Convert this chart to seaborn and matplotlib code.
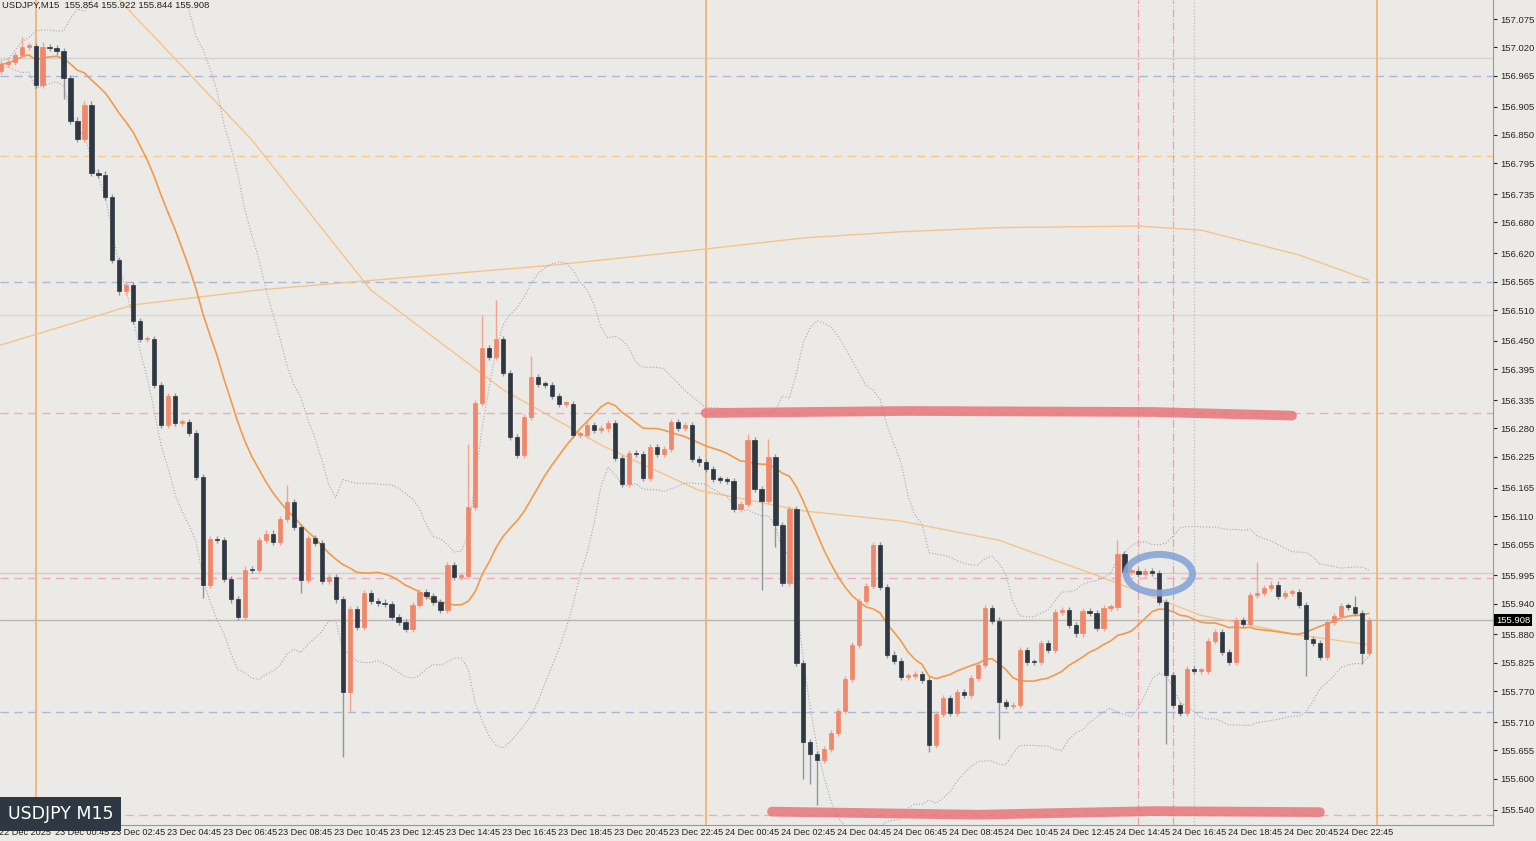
import numpy as np
import pandas as pd
import matplotlib
matplotlib.use("Agg")
import matplotlib.pyplot as plt
from matplotlib.patches import Ellipse
import seaborn as sns

# USDJPY M15 closes, one per bar (open = previous close)
closes = [
    156.987, 156.992, 157.005, 157.021, 157.023, 156.947, 157.020, 157.018, 157.012, 156.961,
    156.878, 156.843, 156.909, 156.777, 156.773, 156.730, 156.607, 156.546, 156.558, 156.489,
    156.453, 156.453, 156.364, 156.286, 156.343, 156.291, 156.292, 156.271, 156.185, 155.977,
    156.065, 156.063, 155.987, 155.948, 155.914, 156.006, 156.005, 156.063, 156.076, 156.060,
    156.105, 156.138, 156.088, 155.985, 156.067, 156.057, 155.984, 155.992, 155.948, 155.768,
    155.930, 155.895, 155.961, 155.945, 155.942, 155.939, 155.914, 155.904, 155.891, 155.938,
    155.963, 155.954, 155.943, 155.928, 156.015, 155.992, 155.993, 156.127, 156.330, 156.437,
    156.418, 156.454, 156.388, 156.264, 156.228, 156.303, 156.380, 156.366, 156.365, 156.343,
    156.328, 156.328, 156.268, 156.268, 156.287, 156.277, 156.280, 156.291, 156.223, 156.172,
    156.232, 156.230, 156.184, 156.244, 156.230, 156.240, 156.293, 156.281, 156.287, 156.220,
    156.214, 156.201, 156.182, 156.180, 156.178, 156.123, 156.134, 156.258, 156.162, 156.139,
    156.224, 156.092, 155.980, 156.124, 155.824, 155.672, 155.647, 155.636, 155.658, 155.688,
    155.732, 155.794, 155.859, 155.945, 155.974, 156.053, 155.972, 155.841, 155.829, 155.798,
    155.799, 155.803, 155.791, 155.665, 155.725, 155.757, 155.727, 155.769, 155.762, 155.796,
    155.820, 155.932, 155.907, 155.749, 155.741, 155.743, 155.850, 155.827, 155.826, 155.864,
    155.850, 155.924, 155.927, 155.898, 155.882, 155.926, 155.921, 155.892, 155.932, 155.934,
    156.037, 156.002, 156.004, 155.997, 156.003, 156.000, 155.943, 155.801, 155.743, 155.728,
    155.812, 155.809, 155.809, 155.868, 155.885, 155.846, 155.826, 155.908, 155.900, 155.956,
    155.961, 155.971, 155.977, 155.955, 155.961, 155.962, 155.937, 155.872, 155.863, 155.837,
    155.905, 155.916, 155.936, 155.934, 155.921, 155.844, 155.908,
]
first_open = 156.975
# notable wick extremes by bar index
wick_high = {3: 157.04, 6: 157.03, 41: 156.17, 67: 156.25, 69: 156.50, 71: 156.53, 76: 156.42,
             107: 156.27, 110: 156.26, 113: 156.13, 160: 156.063, 180: 156.02, 194: 155.955}
wick_low = {9: 156.92, 29: 155.95, 43: 155.96, 49: 155.643, 50: 155.73, 109: 155.967, 111: 156.05,
            115: 155.60, 116: 155.59, 117: 155.548, 133: 155.652, 143: 155.678, 167: 155.668,
            187: 155.80, 195: 155.822}

# slow moving averages (bar index, price)
ma_slow_bars = [0, 19, 37, 57, 79, 100, 115, 129, 143, 163, 172, 186, 196]
ma_slow_vals = [156.442, 156.520, 156.549, 156.572, 156.597, 156.627, 156.650, 156.662,
                156.670, 156.673, 156.665, 156.617, 156.568]
ma_mid_bars = [17, 36, 53, 72, 86, 100, 115, 129, 143, 157, 172, 186, 196]
ma_mid_vals = [157.112, 156.840, 156.549, 156.355, 156.248, 156.160, 156.120, 156.100,
               156.063, 155.995, 155.917, 155.879, 155.860]

blue_levels = [156.965, 156.565, 155.730]
pink_levels = [156.310, 155.990, 155.530]
price_ticks = [157.075, 157.020, 156.965, 156.905, 156.850, 156.795, 156.735, 156.680,
               156.620, 156.565, 156.510, 156.450, 156.395, 156.335, 156.280, 156.225,
               156.165, 156.110, 156.055, 155.995, 155.940, 155.880, 155.825, 155.770,
               155.710, 155.655, 155.600, 155.540]
time_labels = ["22 Dec 2025"] + [f"{d} Dec {h:02d}:45" for d, h in
               [(23, h) for h in range(0, 24, 2)] + [(24, h) for h in range(0, 24, 2)]]

bg = "#ECEAE6"
bull, bear = "#F0876A", "#2E3842"

sns.set_style("white")
plt.rcParams["font.family"] = ["Liberation Sans", "DejaVu Sans"]

n = len(closes)
df = pd.DataFrame({"bar": np.arange(n), "close": closes})
df["open"] = [first_open] + closes[:-1]
df["high"] = df[["open", "close"]].max(axis=1) + 0.006
df["low"] = df[["open", "close"]].min(axis=1) - 0.006
for k, v in wick_high.items():
    df.loc[k, "high"] = v
for k, v in wick_low.items():
    df.loc[k, "low"] = v
df["ma"] = df["close"].rolling(20, min_periods=1).mean()
sd = df["close"].rolling(20, min_periods=2).std().bfill()
df["bb_up"] = df["ma"] + 2 * sd
df["bb_dn"] = df["ma"] - 2 * sd

fig = plt.figure(figsize=(15.36, 8.41), dpi=100, facecolor=bg)
ax = fig.add_axes([0, 0.019, 1493 / 1536, 0.981], facecolor=bg)
ymin, ymax = 155.510, 157.112
ax.set_ylim(ymin, ymax)
ax.set_xlim(-0.1, 213.8)

# horizontal levels
ax.axhline(157.0, color="#D4D2CE", lw=1)
ax.axhline(156.50, color="#D9D7D3", lw=0.8)
ax.axhline(156.0, color="#D0CECA", lw=1)
ax.axhline(155.908, color="#B8B6B2", lw=1)
for lv in blue_levels:
    ax.axhline(lv, color="#A9B8D6", lw=1, ls=(0, (6, 4)))
for lv in pink_levels:
    ax.axhline(lv, color="#F0A8C4", lw=1, ls=(0, (6, 4)))
ax.axhline(156.81, color="#F5C990", lw=1, ls=(0, (6, 4)))

# vertical lines
for b in [5, 101, 197.2]:
    ax.axvline(b, color="#F3B068", lw=1.2)
for b in [163, 168]:
    ax.axvline(b, color="#F0A0A8", lw=0.9, ls="-.")
ax.axvline(171, color="#C0BEBA", lw=0.9, ls=":")

# indicators
sns.lineplot(x=ma_slow_bars, y=ma_slow_vals, ax=ax, color="#F5C38C", lw=1)
sns.lineplot(x=ma_mid_bars, y=ma_mid_vals, ax=ax, color="#F5C38C", lw=1)
sns.lineplot(data=df, x="bar", y="ma", ax=ax, color="#F39A4A", lw=1.2)
sns.lineplot(data=df, x="bar", y="bb_up", ax=ax, color="#A7A5B4", lw=0.8, ls=":")
sns.lineplot(data=df, x="bar", y="bb_dn", ax=ax, color="#A7A5B4", lw=0.8, ls=":")

# candles
up = df["close"] >= df["open"]
for mask, col, wcol in [(up, bull, "#F2A48C"), (~up, bear, "#8E959C")]:
    d = df[mask]
    ax.vlines(d["bar"], d["low"], d["high"], color=wcol, lw=1, zorder=3)
    h = (d["close"] - d["open"]).abs().clip(lower=0.003)
    ax.bar(d["bar"], h, bottom=d[["open", "close"]].min(axis=1), width=0.6,
           color=col, edgecolor=col, lw=0.5, zorder=4)

# hand-drawn marks
ax.plot([101, 130, 165, 185], [156.310, 156.314, 156.312, 156.305],
        color="#E8767A", lw=7, alpha=0.85, solid_capstyle="round", zorder=5)
ax.plot([110.5, 140, 165, 189], [155.536, 155.530, 155.537, 155.535],
        color="#E8767A", lw=7, alpha=0.85, solid_capstyle="round", zorder=5)
ax.add_patch(Ellipse((166, 155.998), 9.5, 0.075, fill=False, ec="#86A6D8", lw=5, alpha=0.9, zorder=6))

# axes & ticks
ax.set_xlabel("")
ax.set_ylabel("")
ax.set_xticks([])
ax.tick_params(axis="y", labelleft=False, left=False, right=True, labelright=True,
               labelsize=6.8, length=3, pad=2)
ax.set_yticks(price_ticks)
ax.set_yticklabels([f"{t:.3f}" for t in price_ticks])
for s in ["top", "left"]:
    ax.spines[s].set_visible(False)
ax.spines["right"].set_color("#9A9894")
ax.spines["bottom"].set_color("#9A9894")
for i, lab in enumerate(time_labels):
    b = 0 if i == 0 else 8 * i
    ax.text(b - 0.2, ymin - 0.005, lab, fontsize=6.6, ha="left", va="top", color="#222222",
            clip_on=False)

ax.text(0.2, 157.110, "USDJPY,M15  155.854 155.922 155.844 155.908", fontsize=6.8,
        va="top", ha="left", color="#222222")
ax.text(1.0, 155.531, "USDJPY M15", fontsize=12.5, color="white", va="center", ha="left",
        family="DejaVu Sans",
        bbox=dict(boxstyle="square,pad=0.45", fc="#2E3842", ec="none"), zorder=8)
ax.text(1.002, 155.908, "155.908", transform=ax.get_yaxis_transform(), fontsize=6.8,
        color="white", va="center", ha="left",
        bbox=dict(boxstyle="square,pad=0.2", fc="black", ec="none"), zorder=8)

fig.savefig("out.png", dpi=100, facecolor=bg)
